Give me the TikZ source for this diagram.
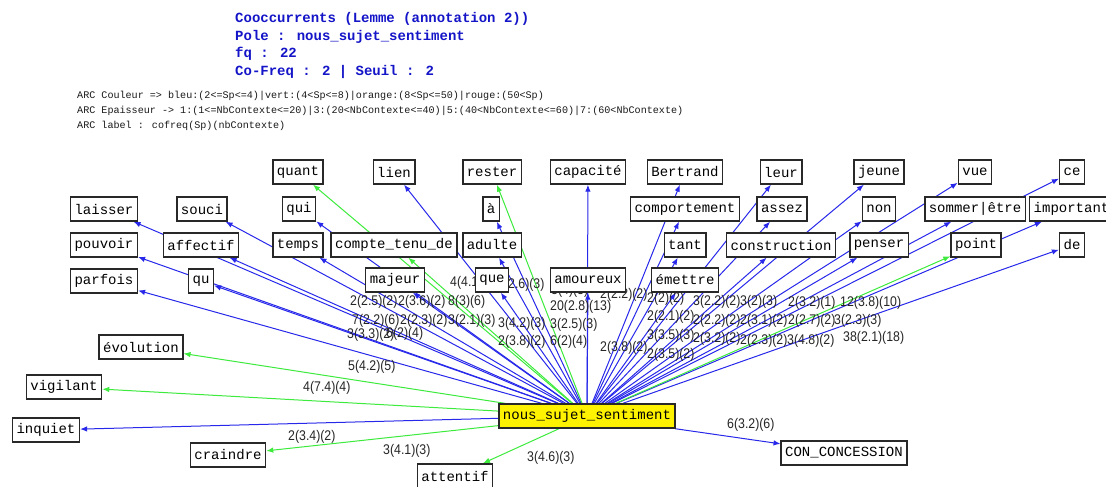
\documentclass[tikz,border=0pt]{standalone}
\usepackage{fontspec}
\setmainfont{Liberation Sans}
\newfontfamily\monof{Liberation Mono}
\usetikzlibrary{arrows.meta,backgrounds}
\definecolor{eblue}{RGB}{40,40,235}
\definecolor{egreen}{RGB}{60,235,60}
\definecolor{tblue}{RGB}{20,20,200}
\definecolor{boxc}{RGB}{40,40,40}
\newcommand{\narrowlab}[1]{\scalebox{0.88}[1]{#1}}
\begin{document}
\begin{tikzpicture}[x=1pt,y=-1pt,
 wbox/.style={draw=boxc,line width=1.4pt,fill=white,inner xsep=4pt,inner ysep=0pt,minimum height=24pt,font=\monof\fontsize{14}{14}\selectfont,text=black},
 ybox/.style={wbox,fill=yellow},
 be/.style={draw=eblue,line width=1pt,-{Latex[length=7pt,width=5.5pt]}},
 ge/.style={be,draw=egreen},
 elab/.style={font=\fontsize{14}{14}\selectfont,inner sep=0pt,anchor=west,text=black!85},
 ttl/.style={font=\monof\bfseries\fontsize{14}{14}\selectfont,text=tblue,anchor=west,inner sep=0pt},
 lgd/.style={font=\monof\fontsize{10.1}{10.1}\selectfont,anchor=west,inner sep=0pt,text=black!90}]
\useasboundingbox (0,0) rectangle (1106,487);
% header
\node[ttl] (t1) at (235,19) {Cooccurrents (Lemme (annotation 2))};
\node[ttl] (t2) at (235,37) {Pole : nous\_sujet\_sentiment};
\node[ttl] (t3) at (235,54) {fq : 22};
\node[ttl] (t4) at (235,72) {Co-Freq : 2 | Seuil : 2};
\node[lgd] (g1) at (77,96) {ARC Couleur => bleu:(2<=Sp<=4)|vert:(4<Sp<=8)|orange:(8<Sp<=50)|rouge:(50<Sp)};
\node[lgd] (g2) at (77,111) {ARC Epaisseur -> 1:(1<=NbContexte<=20)|3:(20<NbContexte<=40)|5:(40<NbContexte<=60)|7:(60<NbContexte)};
\node[lgd] (g3) at (77,126) {ARC label : cofreq(Sp)(nbContexte)};
% nodes row 1
\node[wbox] (quant) at (298,172) {quant};
\node[wbox] (lien) at (394,172) {lien};
\node[wbox] (rester) at (492,172) {rester};
\node[wbox] (capacite) at (588,172) {capacité};
\node[wbox] (bertrand) at (685,172) {Bertrand};
\node[wbox] (leur) at (781,172) {leur};
\node[wbox] (jeune) at (879,172) {jeune};
\node[wbox] (vue) at (975,172) {vue};
\node[wbox] (ce) at (1072,172) {ce};
% row 2
\node[wbox] (laisser) at (104,209) {laisser};
\node[wbox] (souci) at (202,209) {souci};
\node[wbox] (qui) at (299,209) {qui};
\node[wbox] (a) at (491,209) {à};
\node[wbox] (comportement) at (685,209) {comportement};
\node[wbox] (assez) at (782,209) {assez};
\node[wbox] (non) at (879,209) {non};
\node[wbox] (sommer) at (975,209) {sommer|être};
\node[wbox,anchor=west] (important) at (1029,209) {important};
% row 3
\node[wbox] (pouvoir) at (104,245) {pouvoir};
\node[wbox] (affectif) at (201,245) {affectif};
\node[wbox] (temps) at (298,245) {temps};
\node[wbox] (compte) at (394,245) {compte\_tenu\_de};
\node[wbox] (adulte) at (492,245) {adulte};
\node[wbox] (tant) at (685,245) {tant};
\node[wbox] (construction) at (781,245) {construction};
\node[wbox] (penser) at (879,245) {penser};
\node[wbox] (point) at (976,245) {point};
\node[wbox] (de) at (1072,245) {de};
% row 4
\node[wbox] (parfois) at (104,281) {parfois};
\node[wbox] (qu) at (201,281) {qu};
\node[wbox] (majeur) at (395,280) {majeur};
\node[wbox] (que) at (492,280) {que};
\node[wbox] (amoureux) at (588,280) {amoureux};
\node[wbox] (emettre) at (685,280) {émettre};
% left / bottom
\node[wbox] (evolution) at (141,347) {évolution};
\node[wbox] (vigilant) at (64,387) {vigilant};
\node[wbox] (inquiet) at (46,430) {inquiet};
\node[wbox] (craindre) at (228,455) {craindre};
\node[wbox] (attentif) at (455,476) {attentif};
\node[ybox] (center) at (587,416) {nous\_sujet\_sentiment};
\node[wbox] (con) at (844,453) {CON\_CONCESSION};
\begin{pgfonlayer}{background}
\fill[white] (0,0) rectangle (1106,487);
\foreach \t in {lien,capacite,bertrand,leur,jeune,vue,ce,laisser,souci,qui,a,comportement,assez,non,sommer,important,pouvoir,affectif,temps,adulte,tant,construction,penser,de,parfois,qu,majeur,que,amoureux,emettre,inquiet,con}
  \draw[be] (center) -- (\t);
\foreach \t in {quant,rester,compte,point,evolution,vigilant,craindre,attentif}
  \draw[ge] (center) -- (\t);
% edge labels
\node[elab] (l1) at (350,302) {\narrowlab{2(2.5)(2)}};
\node[elab] (l2) at (398,302) {\narrowlab{2(3.6)(2)}};
\node[elab] (l3) at (448,302) {\narrowlab{8(3)(6)}};
\node[elab] (l4) at (352,321) {\narrowlab{7(2.2)(6)}};
\node[elab] (l5) at (400,321) {\narrowlab{2(2.3)(2)}};
\node[elab] (l6) at (448,321) {\narrowlab{3(2.1)(3)}};
\node[elab] (l7) at (498,324) {\narrowlab{3(4.2)(3)}};
\node[elab] (l8) at (347,335) {\narrowlab{3(3.3)(2)}};
\node[elab] (l9) at (386,334) {\narrowlab{6(2)(4)}};
\node[elab] (l10) at (450,283) {\narrowlab{4(4.1)(4)}};
\node[elab] (l11) at (497,285) {\narrowlab{3(2.6)(3)}};
\node[elab] (l12) at (551,291) {\narrowlab{3(4)(3)}};
\node[elab] (l13) at (550,307) {\narrowlab{20(2.8)(13)}};
\node[elab] (l14) at (550,325) {\narrowlab{3(2.5)(3)}};
\node[elab] (l15) at (600,295) {\narrowlab{2(2.2)(2)}};
\node[elab] (l16) at (647,299) {\narrowlab{2(2)(2)}};
\node[elab] (l17) at (693,302) {\narrowlab{3(2.2)(2)}};
\node[elab] (l18) at (740,302) {\narrowlab{3(2)(3)}};
\node[elab] (l19) at (788,303) {\narrowlab{2(3.2)(1)}};
\node[elab] (l20) at (840,303) {\narrowlab{12(3.8)(10)}};
\node[elab] (l21) at (647,317) {\narrowlab{2(2.1)(2)}};
\node[elab] (l22) at (693,321) {\narrowlab{2(2.2)(2)}};
\node[elab] (l23) at (740,321) {\narrowlab{2(3.1)(2)}};
\node[elab] (l24) at (788,321) {\narrowlab{2(2.7)(2)}};
\node[elab] (l25) at (834,321) {\narrowlab{3(2.3)(3)}};
\node[elab] (l26) at (843,338) {\narrowlab{38(2.1)(18)}};
\node[elab] (l27) at (647,336) {\narrowlab{3(3.5)(3)}};
\node[elab] (l28) at (693,339) {\narrowlab{2(3.2)(2)}};
\node[elab] (l29) at (740,341) {\narrowlab{2(2.3)(2)}};
\node[elab] (l30) at (787,341) {\narrowlab{3(4.8)(2)}};
\node[elab] (l31) at (600,348) {\narrowlab{2(3.8)(2)}};
\node[elab] (l32) at (647,355) {\narrowlab{2(3.5)(2)}};
\node[elab] (l33) at (498,342) {\narrowlab{2(3.8)(2)}};
\node[elab] (l34) at (550,342) {\narrowlab{6(2)(4)}};
\node[elab] (l35) at (348,367) {\narrowlab{5(4.2)(5)}};
\node[elab] (l36) at (303,388) {\narrowlab{4(7.4)(4)}};
\node[elab] (l37) at (288,437) {\narrowlab{2(3.4)(2)}};
\node[elab] (l38) at (383,451) {\narrowlab{3(4.1)(3)}};
\node[elab] (l39) at (527,458) {\narrowlab{3(4.6)(3)}};
\node[elab] (l40) at (727,425) {\narrowlab{6(3.2)(6)}};
\end{pgfonlayer}
\end{tikzpicture}
\end{document}
